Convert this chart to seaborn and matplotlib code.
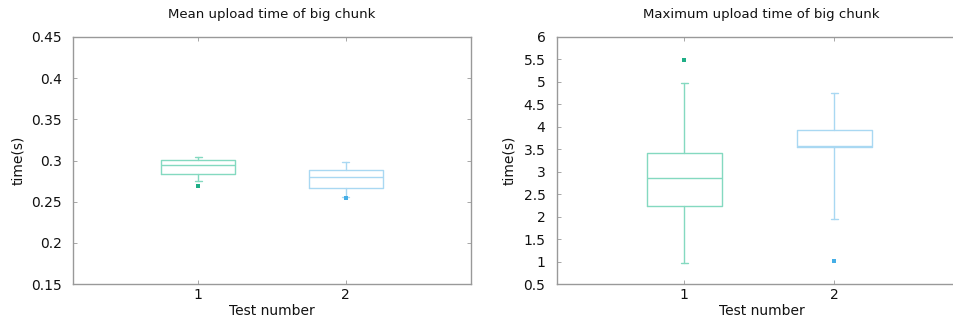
import matplotlib
matplotlib.use("Agg")
import matplotlib.pyplot as plt
import seaborn as sns

# Box statistics per test: whisker low, Q1, median, Q3, whisker high, outliers
tests = [1, 2]

mean_whislo = [0.2755, 0.256]
mean_q1 = [0.283, 0.266]
mean_med = [0.2945, 0.280]
mean_q3 = [0.301, 0.289]
mean_whishi = [0.304, 0.298]
mean_fliers = [[0.269], [0.254]]

max_whislo = [0.97, 1.94]
max_q1 = [2.24, 3.54]
max_med = [2.86, 3.58]
max_q3 = [3.41, 3.93]
max_whishi = [4.98, 4.76]
max_fliers = [[5.49], [1.02]]

mean_yticks = [0.15, 0.2, 0.25, 0.3, 0.35, 0.4, 0.45]
mean_yticklabels = ["0.15", "0.2", "0.25", "0.3", "0.35", "0.4", "0.45"]
max_yticks = [0.5, 1, 1.5, 2, 2.5, 3, 3.5, 4, 4.5, 5, 5.5, 6]
max_yticklabels = ["0.5", "1", "1.5", "2", "2.5", "3", "3.5", "4", "4.5", "5", "5.5", "6"]

line_colors = ["#84d9c0", "#a9d8f2"]
point_colors = ["#1fae86", "#45aee6"]

sns.set_theme(style="white")
plt.rcParams["font.family"] = ["DejaVu Sans"]

fig = plt.figure(figsize=(9.54, 3.2), dpi=100)
W, H = 954, 320
ax1 = fig.add_axes([73 / W, 1 - 284 / H, 398 / W, 247 / H])
ax2 = fig.add_axes([556.5 / W, 1 - 284 / H, 410 / W, 247 / H])


def draw(ax, wl, q1, med, q3, wh, fl, ylim, yticks, yticklabels, title, xlim):
    for i, t in enumerate(tests):
        stats = [dict(whislo=wl[i], q1=q1[i], med=med[i], q3=q3[i],
                      whishi=wh[i], fliers=fl[i], label=str(t))]
        c = line_colors[i]
        ax.bxp(stats, positions=[t], widths=0.5, capwidths=0.05, showfliers=True,
               boxprops=dict(color=c, linewidth=1.0),
               medianprops=dict(color=c, linewidth=1.0),
               whiskerprops=dict(color=c, linewidth=1.0),
               capprops=dict(color=c, linewidth=1.0),
               flierprops=dict(marker="s", markersize=2.6, markeredgewidth=0,
                               markerfacecolor=point_colors[i]))
    ax.set_xlim(*xlim)
    ax.set_ylim(*ylim)
    ax.set_xticks(tests)
    ax.set_xticklabels([str(t) for t in tests])
    ax.set_yticks(yticks)
    ax.set_yticklabels(yticklabels)
    ax.tick_params(direction="in", length=3, width=0.6, color="#999999",
                   labelsize=10, labelcolor="#111111", pad=8,
                   top=True, bottom=True, left=True, right=True)
    ax.tick_params(axis="x", pad=3)
    for s in ax.spines.values():
        s.set_color("#999999")
        s.set_linewidth(1.0)
    ax.set_xlabel("Test number", fontsize=10, color="#111111", labelpad=1)
    ax.set_ylabel("time(s)", fontsize=10, color="#111111", labelpad=4)
    ax.set_title(title, fontsize=9.5, color="#111111", pad=14)


draw(ax1, mean_whislo, mean_q1, mean_med, mean_q3, mean_whishi, mean_fliers,
     (0.15, 0.45), mean_yticks, mean_yticklabels, "Mean upload time of big chunk",
     (0.15, 2.85))
draw(ax2, max_whislo, max_q1, max_med, max_q3, max_whishi, max_fliers,
     (0.5, 6), max_yticks, max_yticklabels, "Maximum upload time of big chunk",
     (0.148, 0.148 + 410 / 150))
ax2.yaxis.set_label_coords(-0.098, 0.5)

fig.savefig("out.png", dpi=100)
